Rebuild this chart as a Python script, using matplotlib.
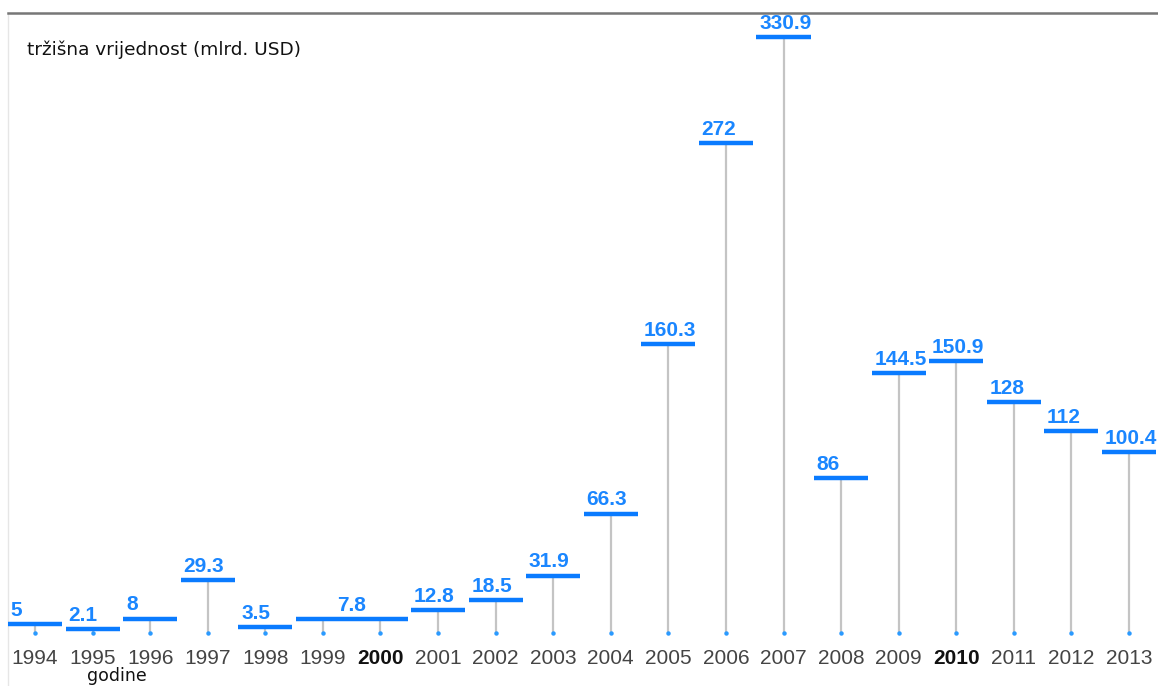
import numpy as np
import matplotlib.pyplot as plt

# tržišna vrijednost po godinama (mlrd. USD); 1999 i 2000 dijele istu vrijednost
years = np.arange(1994, 2014)
values = [5, 2.1, 8, 29.3, 3.5, 7.8, 7.8, 12.8, 18.5, 31.9,
          66.3, 160.3, 272, 330.9, 86, 144.5, 150.9, 128, 112, 100.4]
bold_years = [2000, 2010]

blue = '#0a7bff'
txt_blue = '#1a86ff'

fig = plt.figure(figsize=(11.58, 6.86), dpi=100)
ax = fig.add_axes([8 / 1158, 0, 1150 / 1158, 673 / 686])
ax.set_xlim(1993.531, 2013.504)
ax.set_ylim(-29.4, 344.2)

for s in ['right', 'bottom']:
    ax.spines[s].set_visible(False)
ax.spines['top'].set_color('#777777')
ax.spines['top'].set_linewidth(1.8)
ax.spines['left'].set_color('#e6e6e6')
ax.spines['left'].set_linewidth(1)
ax.set_xticks([])
ax.set_yticks([])

# stems
ax.vlines(years, 0, values, color='#c4c4c4', lw=1.6, zorder=1)
ax.plot(years, np.zeros(len(years)), 'o', color='#2a9aff', ms=2.2, zorder=2)

# horizontal bars, consecutive equal values merged into one bar
half = 0.47
i = 0
while i < len(values):
    j = i
    while j + 1 < len(values) and values[j + 1] == values[i]:
        j += 1
    x0 = years[i] - half
    x1 = years[j] + half
    ax.hlines(values[i], x0, x1, color=blue, lw=3.2, zorder=3)
    lab = f'{values[i]:g}'
    if j > i:
        ax.annotate(lab, ((x0 + x1) / 2, values[i]), xytext=(0, 3),
                    textcoords='offset points', ha='center', va='bottom',
                    color=txt_blue, fontsize=15, fontweight='bold',
                    family='Liberation Sans')
    else:
        ax.annotate(lab, (x0, values[i]), xytext=(2, 3),
                    textcoords='offset points', ha='left', va='bottom',
                    color=txt_blue, fontsize=15, fontweight='bold',
                    family='Liberation Sans')
    i = j + 1

# year labels
for y in years:
    b = y in bold_years
    ax.text(y, -13.9, str(y), ha='center', va='center', fontsize=15,
            family='Liberation Sans', fontweight='bold' if b else 'normal',
            color='#111111' if b else '#444444')

ax.text(1995.42, -28.8, 'godine', ha='center', va='bottom', fontsize=12.5,
        color='#111111')

fig.text(27 / 1158, 1 - 50 / 686, 'tržišna vrijednost (mlrd. USD)',
         ha='left', va='center', fontsize=13.3, color='#111111')

fig.savefig('out.png', dpi=100)
